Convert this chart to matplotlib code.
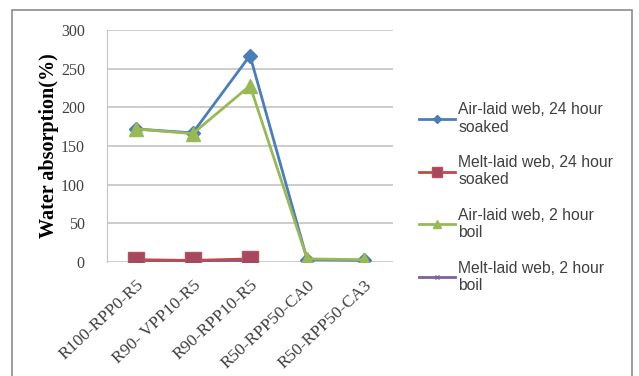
import matplotlib.pyplot as plt
from matplotlib.patches import Rectangle

# data
samples = ['R100-RPP0-R5', 'R90- VPP10-R5', 'R90-RPP10-R5', 'R50-RPP50-CA0', 'R50-RPP50-CA3']

air_24h = [172, 167, 267, 3, 2]
melt_24h = [3, 2, 4]
air_2h = [172, 166, 228, 4, 3]
melt_2h = [2, 1, 2]

labels = ['Air-laid web, 24 hour\nsoaked', 'Melt-laid web, 24 hour\nsoaked',
          'Air-laid web, 2 hour\nboil', 'Melt-laid web, 2 hour\nboil']

fig = plt.figure(figsize=(6.39, 3.76), dpi=100)
W, H = 639, 376

# outer chart frame
fig.patches.append(Rectangle((12 / W, -0.05), 620 / W, 1 - 10 / H + 0.05,
                             transform=fig.transFigure, fill=False,
                             edgecolor='#8c8c8c', linewidth=1.2))

ax = fig.add_axes([107 / W, 1 - 262 / H, 286 / W, 232 / H])

x = list(range(len(samples)))
l1, = ax.plot(x, air_24h, color='#4a7ebb', marker='D', markersize=7, linewidth=2, zorder=3)
l4, = ax.plot(x[:3], melt_2h, color='#7d60a0', marker='x', markersize=5, linewidth=2, zorder=3)
l2, = ax.plot(x[:3], melt_24h, color='#be4b48', marker='s', markersize=11, linewidth=2, zorder=4,
              markeredgecolor='#b8505f', markerfacecolor='#a8485e')
l3, = ax.plot(x, air_2h, color='#98b954', marker='^', markersize=10, linewidth=2, zorder=5)

ax.set_xlim(-0.5, 4.5)
ax.set_ylim(0, 300)
ax.set_yticks(range(0, 301, 50))
ax.grid(axis='y', color='#c4c4c4', linewidth=1.2)
ax.set_axisbelow(True)
for s in ['top', 'right', 'bottom']:
    ax.spines[s].set_visible(False)
ax.spines['left'].set_color('#c4c4c4')
ax.tick_params(length=0, pad=16, labelsize=11.5, colors='#404040')
ax.set_xticks(x)
ax.set_xticklabels(samples, rotation=43, ha='right', rotation_mode='anchor',
                   fontfamily='Liberation Serif', fontsize=12.5)
for t in ax.get_yticklabels():
    t.set_fontfamily('Liberation Serif')
ax.tick_params(axis='x', pad=11)

ax.set_ylabel('Water absorption(%)', fontfamily='Liberation Serif',
              fontweight='bold', fontsize=14.5, labelpad=1)

fig.legend([l1, l2, l3, l4], labels, loc='upper left', bbox_to_anchor=(405 / W, 1 - 88 / H),
           frameon=False, prop={'family': 'Liberation Sans', 'size': 11.3},
           handlelength=2.3, handletextpad=0.2, labelspacing=1.3,
           labelcolor='#404040', markerscale=0.6)

fig.savefig('out.png', dpi=100)
